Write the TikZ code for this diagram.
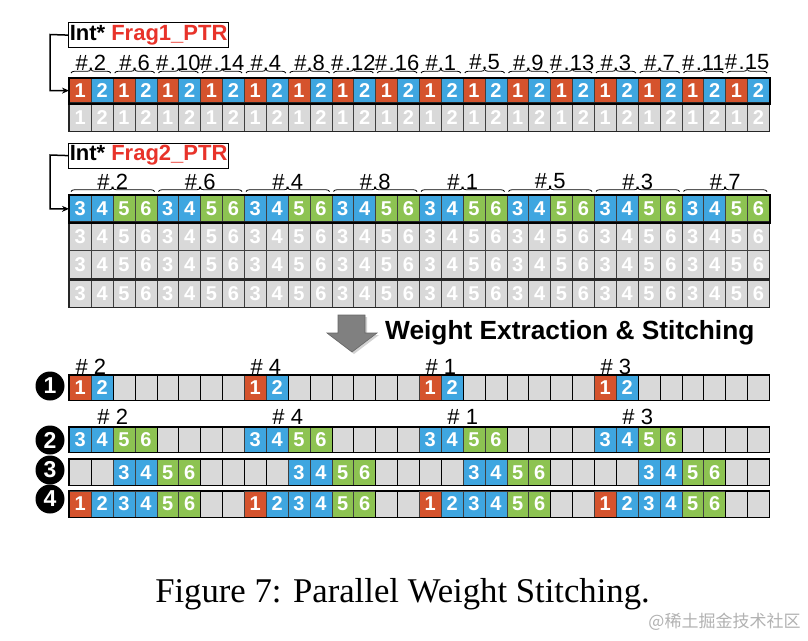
\documentclass[tikz,border=0pt]{standalone}
\usepackage{fontspec}
\setmainfont{Liberation Serif}
\setsansfont{Liberation Sans}
\newfontfamily\cjk{Noto Sans CJK SC}
\usetikzlibrary{decorations.pathreplacing,shadows,arrows.meta}
\definecolor{cred}{HTML}{D5532D}
\definecolor{cblue}{HTML}{3FA6E0}
\definecolor{cgreen}{HTML}{8DC352}
\definecolor{cgray}{HTML}{D9D9D9}
\definecolor{ptrred}{HTML}{E8332A}
\begin{document}
\begin{tikzpicture}[x=1pt,y=-1pt,
  cell/.style={draw=black!75, line width=0.7pt, minimum width=21.875pt, minimum height=#1,
    inner sep=0pt, anchor=north west, font=\sffamily\bfseries\fontsize{20}{20}\selectfont, text=white},
  rowframe/.style={draw=black, line width=2pt},
  rowline/.style={draw=black!85, line width=1.3pt},
  lbl/.style={font=\sffamily\fontsize{22}{22}\selectfont, inner sep=0pt},
  brc/.style={decorate, decoration={brace, amplitude=3.5pt}, line width=0.8pt},
  ptrbox/.style={draw=black, line width=1.2pt, anchor=north west, minimum width=160pt, minimum height=25pt,
    inner sep=1pt, font=\sffamily\bfseries\fontsize{22}{22}\selectfont},
  ptrarrow/.style={line width=1.5pt, -{Stealth[length=7pt,width=6pt]}},
  stepnum/.style={circle, fill=black, text=white, minimum size=29pt, inner sep=0pt,
    font=\sffamily\bfseries\fontsize{23}{23}\selectfont}
]
\useasboundingbox (0,0) rectangle (808,640);
\fill[white] (0,0) rectangle (808,640);
\def\xo{69}
\def\cw{21.875}

% ---------- Frag1 ----------
\node[ptrbox] (p1) at (68,22) {Int* \textcolor{ptrred}{Frag1\_PTR}};
\foreach \i in {0,...,31}{
  \pgfmathtruncatemacro\pp{mod(\i,2)}
  \ifnum\pp=0
    \node[cell=25.5pt, fill=cred] (a\i) at ({\xo+\i*\cw},77.5) {1};
    \node[cell=28pt, fill=cgray] (b\i) at ({\xo+\i*\cw},103) {1};
  \else
    \node[cell=25.5pt, fill=cblue] (a\i) at ({\xo+\i*\cw},77.5) {2};
    \node[cell=28pt, fill=cgray] (b\i) at ({\xo+\i*\cw},103) {2};
  \fi
}
\draw[rowline] (b0.north west) rectangle (b31.south east);
\draw[rowframe] (a0.north west) rectangle (a31.south east);
\foreach \n [count=\p from 0] in {2,6,10,14,4,8,12,16,1,5,9,13,3,7,11,15}{
  \pgfmathsetmacro\xl{\xo+2*\p*\cw+2}
  \pgfmathsetmacro\xr{\xo+(2*\p+2)*\cw-2}
  \pgfmathsetmacro\xc{\xo+(2*\p+1)*\cw}
  \ifnum\n<10
    \node[lbl] (t\p) at (\xc,62.5) {\#.\n};
  \else
    \node[lbl] (t\p) at (\xc,62.5) {\#\kern1.5pt.\n};
  \fi
  \draw[brc] (\xl,73) -- (\xr,73);
}
\draw[ptrarrow] (p1.west) -- (50,34.5) |- (a0.west);

% ---------- Frag2 ----------
\node[ptrbox] (p2) at (68,142.5) {Int* \textcolor{ptrred}{Frag2\_PTR}};
\foreach \i in {0,...,31}{
  \pgfmathtruncatemacro\q{mod(\i,4)}
  \pgfmathtruncatemacro\d{\q+3}
  \ifnum\q<2 \def\fc{cblue}\else\def\fc{cgreen}\fi
  \node[cell=27pt, fill=\fc] (f\i) at ({\xo+\i*\cw},195) {\d};
  \node[cell=28pt, fill=cgray] (g\i) at ({\xo+\i*\cw},222) {\d};
  \node[cell=28pt, fill=cgray] (h\i) at ({\xo+\i*\cw},250) {\d};
  \node[cell=27pt, fill=cgray] (k\i) at ({\xo+\i*\cw},280) {\d};
}
\draw[rowline] (g0.north west) rectangle (h31.south east);
\draw[rowline] (k0.north west) rectangle (k31.south east);
\draw[rowframe] (f0.north west) rectangle (f31.south east);
\foreach \n [count=\p from 0] in {2,6,4,8,1,5,3,7}{
  \pgfmathsetmacro\xl{\xo+4*\p*\cw+2}
  \pgfmathsetmacro\xr{\xo+(4*\p+4)*\cw-2}
  \pgfmathsetmacro\xc{\xo+(4*\p+2)*\cw}
  \node[lbl] (u\p) at (\xc,181.5) {\#.\n};
  \draw[brc] (\xl,191.5) -- (\xr,191.5);
}
\draw[ptrarrow] (p2.west) -- (50,155) |- (f0.west);

% ---------- big arrow + title ----------
\fill[black!35, opacity=0.5, xshift=2pt, yshift=-2pt] (338,315) -- (365,315) -- (365,333) -- (377,333) -- (352,352) -- (327,333) -- (338,333) -- cycle;
\filldraw[fill=black!50, draw=black!60, line width=0.6pt] (338,315) -- (365,315) -- (365,333) -- (377,333) -- (352,352) -- (327,333) -- (338,333) -- cycle;
\node[anchor=west, inner sep=0pt, font=\sffamily\bfseries\fontsize{26.3}{26.3}\selectfont] (title) at (385,333) {Weight Extraction \& Stitching};

% ---------- stitched rows ----------
\foreach \i in {0,...,31}{
  \pgfmathtruncatemacro\q{mod(\i,8)}
  \ifnum\q=0 \node[cell=24.5pt, fill=cred] (r1c\i) at ({\xo+\i*\cw},375) {1};
  \else\ifnum\q=1 \node[cell=24.5pt, fill=cblue] (r1c\i) at ({\xo+\i*\cw},375) {2};
  \else \node[cell=24.5pt, fill=cgray, draw=black] (r1c\i) at ({\xo+\i*\cw},375) {};
  \fi\fi
}
\foreach \i in {0,...,31}{
  \pgfmathtruncatemacro\q{mod(\i,8)}
  \pgfmathtruncatemacro\d{\q+3}
  \ifnum\q<2 \node[cell=25pt, fill=cblue] (r2c\i) at ({\xo+\i*\cw},427) {\d};
  \else\ifnum\q<4 \node[cell=25pt, fill=cgreen] (r2c\i) at ({\xo+\i*\cw},427) {\d};
  \else \node[cell=25pt, fill=cgray, draw=black] (r2c\i) at ({\xo+\i*\cw},427) {};
  \fi\fi
}
\foreach \i in {0,...,31}{
  \pgfmathtruncatemacro\q{mod(\i,8)}
  \pgfmathtruncatemacro\d{\q+1}
  \ifnum\q<2 \node[cell=26pt, fill=cgray, draw=black] (r3c\i) at ({\xo+\i*\cw},459) {};
  \else\ifnum\q<4 \node[cell=26pt, fill=cblue] (r3c\i) at ({\xo+\i*\cw},459) {\d};
  \else\ifnum\q<6 \node[cell=26pt, fill=cgreen] (r3c\i) at ({\xo+\i*\cw},459) {\d};
  \else \node[cell=26pt, fill=cgray, draw=black] (r3c\i) at ({\xo+\i*\cw},459) {};
  \fi\fi\fi
}
\foreach \i in {0,...,31}{
  \pgfmathtruncatemacro\q{mod(\i,8)}
  \pgfmathtruncatemacro\d{\q+1}
  \ifnum\q=0 \node[cell=26pt, fill=cred] (r4c\i) at ({\xo+\i*\cw},490.5) {1};
  \else\ifnum\q<4 \node[cell=26pt, fill=cblue] (r4c\i) at ({\xo+\i*\cw},490.5) {\d};
  \else\ifnum\q<6 \node[cell=26pt, fill=cgreen] (r4c\i) at ({\xo+\i*\cw},490.5) {\d};
  \else \node[cell=26pt, fill=cgray, draw=black] (r4c\i) at ({\xo+\i*\cw},490.5) {};
  \fi\fi\fi
}
\foreach \r in {1,2,3,4}{
  \draw[rowline, draw=black] (r\r c0.north west) rectangle (r\r c31.south east);
}
\foreach \n [count=\p from 0] in {2,4,1,3}{
  \node[lbl] (v\p) at ({\xo+(8*\p+1)*\cw},366.5) {\# \n};
  \node[lbl] (w\p) at ({\xo+(8*\p+2)*\cw},416.5) {\# \n};
}
\node[stepnum] (s1) at (50,386) {1};
\node[stepnum] (s2) at (50,440) {2};
\node[stepnum] (s3) at (50,470) {3};
\node[stepnum] (s4) at (50,499) {4};

% ---------- caption ----------
\node[font=\rmfamily\fontsize{34.7}{34.7}\selectfont, inner sep=0pt] (cap) at (402.5,594) {Figure 7: Parallel Weight Stitching.};
\node[font=\cjk\fontsize{17}{17}\selectfont, text=black!30, inner sep=0pt] (wm) at (724.5,622) {@稀土掘金技术社区};
\end{tikzpicture}
\end{document}
